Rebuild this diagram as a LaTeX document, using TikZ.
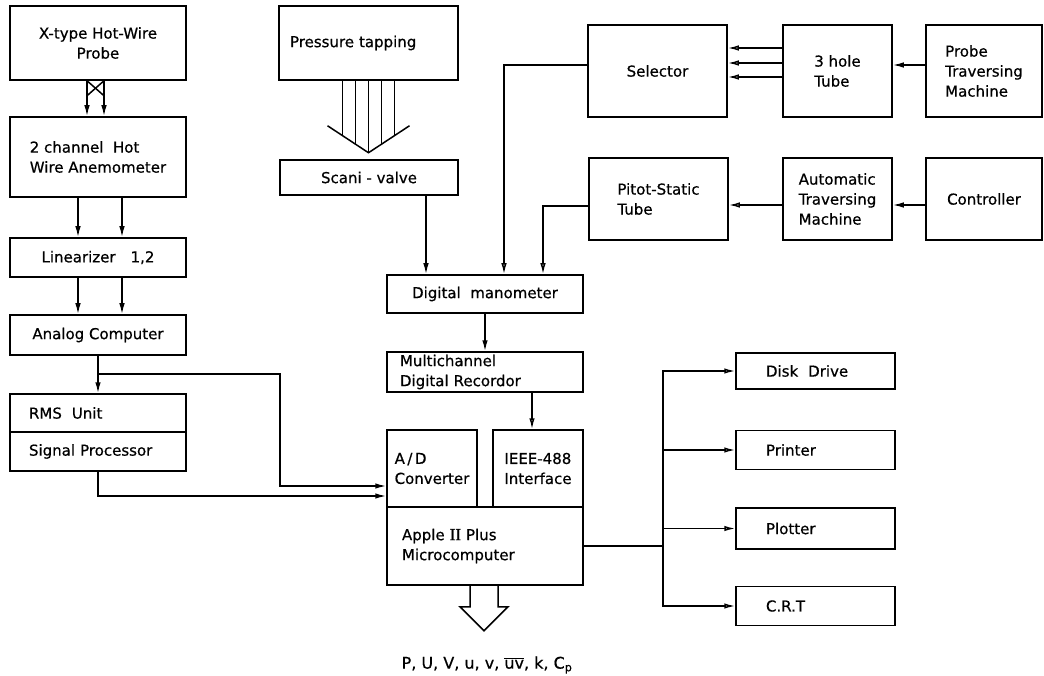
\documentclass[tikz,border=0pt]{standalone}
\usepackage{fontspec}
\setmainfont{DejaVu Sans}[FakeBold=0.6]
\newfontfamily\romanfont{Liberation Serif}[FakeBold=1.2]
\usetikzlibrary{arrows.meta,positioning}

\begin{document}
\begin{tikzpicture}[
  x=1pt, y=-1pt,
  node distance=38pt and 16pt,
  blk/.style={draw, line width=1.5pt, inner sep=0pt, align=center, font=\fontsize{15}{20}\selectfont},
  arr/.style={-{Latex[length=11pt,width=5.5pt]}, line width=1.5pt},
  oarr/.style={-{Latex[open,length=11pt,width=5.5pt]}, line width=1.5pt},
  wire/.style={line width=1.5pt}
]
  \useasboundingbox (0,0) rectangle (1044,676);
  % hot-wire chain
  \node[blk, minimum width=176pt, minimum height=74pt] (probe) at (98,43) {X-type Hot-Wire\\Probe};
  \node[blk, align=left, minimum width=176pt, minimum height=80pt] (anem) at (98,157) {2 channel\ \ Hot\\Wire Anemometer};
  \node[blk, minimum width=176pt, minimum height=39pt] (lin) at (98,257.5) {Linearizer\quad 1,2};
  \node[blk, minimum width=176pt, minimum height=40pt] (anal) at (98,335) {Analog Computer};
  \node[blk, align=left, inner xsep=19pt, text width=138pt, minimum height=38pt] (rms) at (98,413) {RMS\ \ Unit};
  \node[blk, align=left, inner xsep=19pt, text width=138pt, minimum height=39pt] (sig) at (98,451.5) {Signal Processor};
  % pressure chain
  \node[blk, align=left, inner xsep=11pt, text width=157pt, minimum height=74pt] (press) at (368.5,43) {Pressure tapping};
  \node[blk, minimum width=178pt, minimum height=35pt] (scani) at (369,177.5) {Scani - valve};
  \node[blk, minimum width=196pt, minimum height=38pt] (dman) at (485,294) {Digital\ \ manometer};
  \node[blk, align=left, inner xsep=13pt, text width=170pt, minimum height=40pt] (mrec) at (485,372) {Multichannel\\Digital Recordor};
  \node[blk, align=left, minimum width=90pt, minimum height=77pt] (adc) at (432,468.5) {A\,/\,D\\Converter};
  \node[blk, align=left, minimum width=90pt, minimum height=77pt] (ieee) at (538,468.5) {IEEE-488\\Interface};
  \node[blk, align=left, inner xsep=15pt, text width=166pt, minimum height=78pt] (apple) at (485,546) {Apple {\romanfont\fontsize{17}{20}\selectfont II} Plus\\Microcomputer};
  % probes and traversing
  \node[blk, minimum width=139pt, minimum height=92pt] (sel) at (657.5,71) {Selector};
  \node[blk, align=left, minimum width=109pt, minimum height=92pt] (hole) at (837.5,71) {3 hole\\Tube};
  \node[blk, align=left, minimum width=116pt, minimum height=92pt] (ptm) at (984,71) {Probe\\Traversing\\Machine};
  \node[blk, align=left, minimum width=139pt, minimum height=82pt] (pitot) at (658.5,199) {Pitot-Static\\Tube};
  \node[blk, align=left, minimum width=109pt, minimum height=82pt] (atm) at (837.5,199) {Automatic\\Traversing\\Machine};
  \node[blk, minimum width=116pt, minimum height=82pt] (ctrl) at (984,199) {Controller};
  % peripherals
  \node[blk, align=left, inner xsep=30pt, text width=99pt, minimum height=36pt] (disk) at (815.5,371) {Disk\ \ Drive};
  \node[blk, align=left, inner xsep=30pt, text width=99pt, minimum height=39pt, below=40pt of disk] (prn) {Printer};
  \node[blk, align=left, inner xsep=30pt, text width=99pt, minimum height=41pt, below=37pt of prn] (plot) {Plotter};
  \node[blk, align=left, inner xsep=30pt, text width=99pt, minimum height=39pt, below=36pt of plot] (crt) {C.R.T};
  \node[font=\fontsize{16}{20}\selectfont] (out) at (487,665) {P, U, V, u, v, $\overline{\mbox{uv}}$, k, C\textsubscript{p}};

  \draw[wire] ([xshift=-11pt]probe.south) -- ([xshift=6pt,yshift=-15pt]probe.south)
              ([xshift=6pt]probe.south) -- ([xshift=-11pt,yshift=-15pt]probe.south);
  \draw[arr] ([xshift=-11pt]probe.south) -- ([xshift=-11pt]anem.north);
  \draw[arr] ([xshift=6pt]probe.south) -- ([xshift=6pt]anem.north);
  \foreach \dx in {-20,24} {
    \draw[arr] ([xshift=\dx pt]anem.south) -- ([xshift=\dx pt]lin.north);
    \draw[arr] ([xshift=\dx pt]lin.south) -- ([xshift=\dx pt]anal.north);
  }
  \draw[arr] (anal.south) -- (rms.north);
  \draw[arr] ([yshift=-18pt]anal.south) -- ++(182,0) |- ([yshift=-17.5pt]adc.west);
  \draw[arr] (sig.south) |- ([yshift=-27.5pt]adc.west);

  \begin{scope}[shift={(press.south)}]
    \foreach \dx/\dy in {-26/55,-13/63.4,0/72,13/63.4,26/55}
      \draw[wire] (\dx,0) -- (\dx,\dy);
    \draw[wire] (-41,45) -- (0,72) -- (41,45);
  \end{scope}
  \draw[arr] ([xshift=57pt]scani.south) -- ([xshift=-59pt]dman.north);
  \draw[oarr] ([yshift=6pt]sel.west) -| ([xshift=19pt]dman.north);
  \draw[oarr] ([yshift=-7pt]pitot.west) -| ([xshift=58pt]dman.north);
  \foreach \dy in {23,8,-6}
    \draw[oarr] ([yshift=\dy pt]hole.west) -- ([yshift=\dy pt]sel.east);
  \draw[arr] ([yshift=6pt]ptm.west) -- ([yshift=6pt]hole.east);
  \draw[arr] ([yshift=-6pt]ctrl.west) -- ([yshift=-6pt]atm.east);
  \draw[oarr] ([yshift=-6pt]atm.west) -- ([yshift=-6pt]pitot.east);
  \draw[arr] (dman.south) -- (mrec.north);
  \draw[oarr] ([xshift=47pt]mrec.south) -- ([xshift=-6pt]ieee.north);

  \draw[wire] (apple.east) -- ++(79,0);
  \foreach \dev in {disk,prn,plot,crt}
    \draw[oarr] ([xshift=79pt]apple.east) |- (\dev.west);
  \begin{scope}[shift={(apple.south)}]
    \draw[wire] (-15,0) -- (-15,21) -- (-25,21) -- (-1,45) -- (23,21) -- (13,21) -- (13,0);
  \end{scope}
\end{tikzpicture}
\end{document}
